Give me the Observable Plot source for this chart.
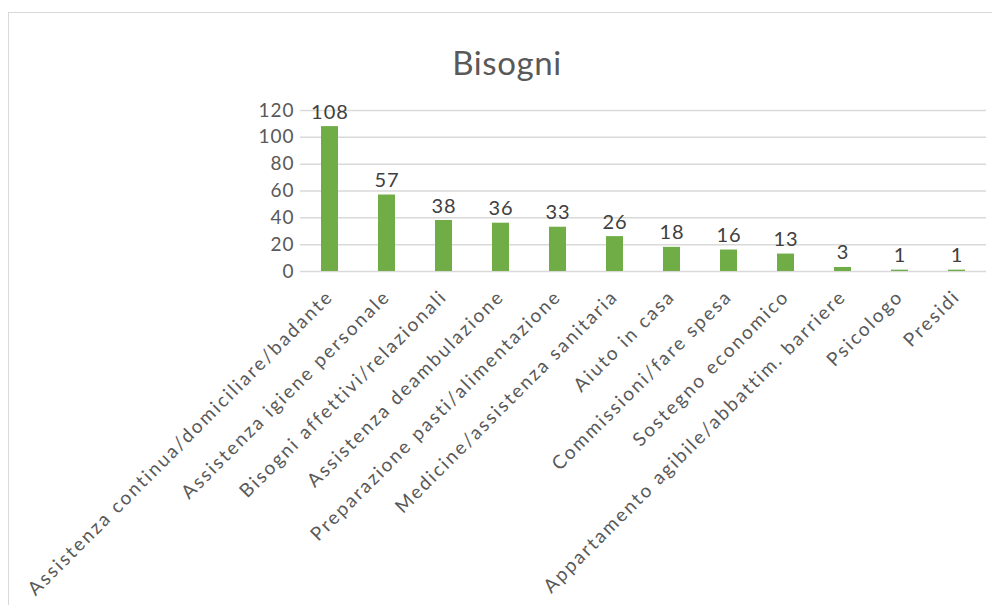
<!DOCTYPE html>
<html>
<head>
<meta charset="utf-8">
<script src="https://cdn.jsdelivr.net/npm/d3@7"></script>
<script src="https://cdn.jsdelivr.net/npm/@observablehq/plot@0.6"></script>
<style>
  html, body { margin: 0; padding: 0; background: #fff; }
  #wrap { position: relative; width: 992px; height: 605px; overflow: hidden; }
  #frame { position: absolute; left: 8px; top: 12px; width: 1000px; height: 610px; border: 1px solid #d9d9d9; box-sizing: border-box; }
  #title { position: absolute; left: 0; width: 1014px; top: 42px; text-align: center; font-family: Lato, "Open Sans", sans-serif; font-size: 33px; letter-spacing: 0.6px; color: #595959; }
  #chart { position: absolute; left: 0; top: 0; }
</style>
</head>
<body>
<div id="wrap">
  <div id="frame"></div>
  <div id="title">Bisogni</div>
  <div id="chart"></div>
</div>
<script>
const categories = [
  "Assistenza continua/domiciliare/badante",
  "Assistenza igiene personale",
  "Bisogni affettivi/relazionali",
  "Assistenza deambulazione",
  "Preparazione pasti/alimentazione",
  "Medicine/assistenza sanitaria",
  "Aiuto in casa",
  "Commissioni/fare spesa",
  "Sostegno economico",
  "Appartamento agibile/abbattim. barriere",
  "Psicologo",
  "Presidi"
];
const values = [108, 57, 38, 36, 33, 26, 18, 16, 13, 3, 1, 1];
const yTicks = [0, 20, 40, 60, 80, 100, 120];

const data = categories.map((c, i) => ({category: c, value: values[i]}));

const chart = Plot.plot({
  width: 992,
  height: 605,
  marginTop: 110,
  marginBottom: 334,
  marginLeft: 300,
  marginRight: 6,
  style: {fontFamily: "Lato, 'Open Sans', sans-serif", background: "transparent", color: "#595959", overflow: "visible"},
  x: {domain: categories, paddingInner: 0.7, paddingOuter: 0.35, label: null},
  y: {domain: [0, 120], ticks: yTicks, label: null},
  marks: [
    Plot.gridY(yTicks, {stroke: "#d9d9d9", strokeOpacity: 1, strokeWidth: 1.5}),
    Plot.barY(data, {x: "category", y: "value", fill: "#70ad47"}),
    Plot.text(data, {x: "category", y: "value", text: d => String(d.value), lineAnchor: "bottom", dy: -8, fontSize: 20, fill: "#404040"}),
    Plot.axisY(yTicks, {tickSize: 0, tickPadding: 6, fontSize: 19, fill: "#595959"}),
    Plot.axisX({tickSize: 0, tickPadding: 22, tickRotate: -45, fontSize: 19, fill: "#595959", textAnchor: "end"})
  ]
});
d3.select(chart).selectAll('g[aria-label="x-axis tick label"] text').style("letter-spacing", "2.15px");
d3.select(chart).selectAll('g[aria-label="y-axis tick label"] text').style("letter-spacing", "1px");
d3.select(chart).selectAll('g[aria-label="text"] text').style("letter-spacing", "1px");
document.getElementById("chart").appendChild(chart);
</script>
</body>
</html>
